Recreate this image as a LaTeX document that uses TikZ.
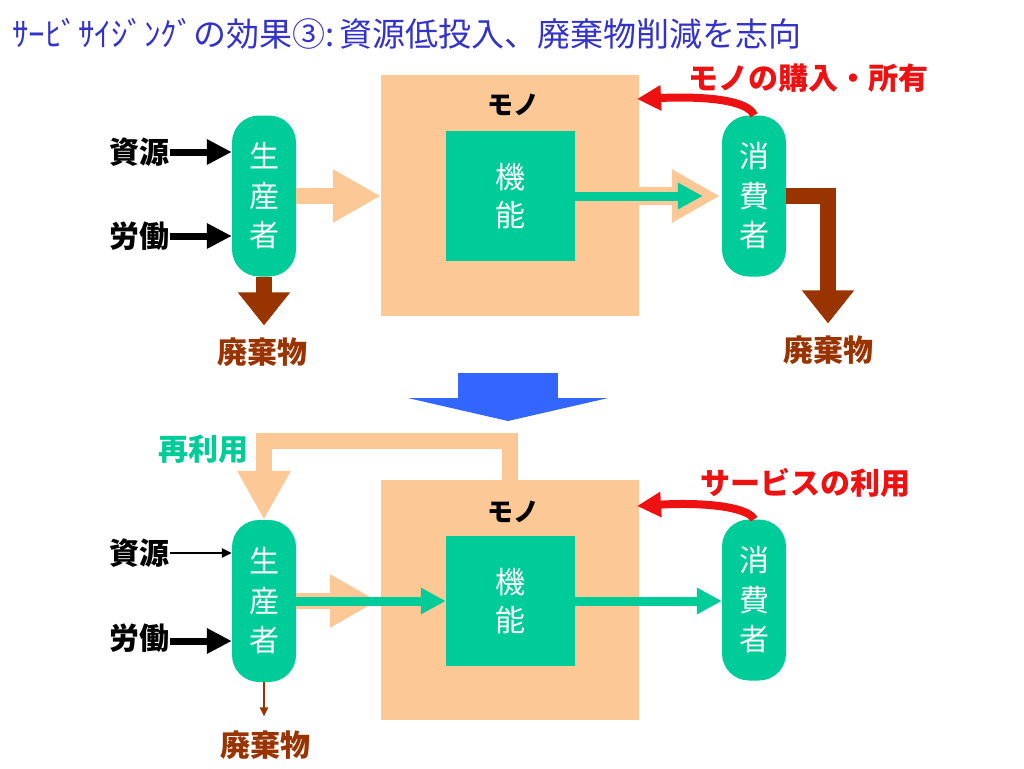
\documentclass[tikz,border=0pt]{standalone}
\usepackage{fontspec}
\newfontfamily\jp{Noto Sans CJK JP}
\usetikzlibrary{arrows.meta}
\definecolor{peach}{HTML}{FCC996}
\definecolor{mgreen}{HTML}{00CC99}
\definecolor{brownc}{HTML}{993300}
\definecolor{titleblue}{HTML}{3333CC}
\definecolor{arrowblue}{HTML}{3366FF}
\definecolor{redc}{HTML}{EE1111}
\begin{document}
\begin{tikzpicture}[x=1pt,y=-1pt,
  peachbox/.style={fill=peach, draw=none, minimum width=258pt, minimum height=241pt, inner sep=0pt},
  funcbox/.style={fill=mgreen, draw=none, minimum width=129pt, minimum height=130pt, inner sep=0pt,
    text=white, align=center, font=\jp\fontsize{30}{38}\selectfont},
  actor/.style={fill=mgreen, draw=none, rounded corners=27pt, minimum width=64pt, minimum height=161pt, inner sep=0pt,
    text=white, align=center, font=\jp\fontsize{30}{39.5}\selectfont},
  lbl/.style={inner sep=1pt, font=\jp\bfseries\fontsize{30}{36}\selectfont},
  monolbl/.style={inner sep=1pt, font=\jp\bfseries\fontsize{26}{30}\selectfont},
  blackfat/.style={draw=black, line width=7pt, -{Triangle[width=24pt,length=25pt]}},
  thinarrow/.style={line width=2.5pt, -{Triangle[width=9pt,length=10pt]}},
  peachfat/.style={draw=peach, line width=16pt, line join=miter, -{Triangle[width=50pt,length=48pt]}},
  greenarrow/.style={draw=mgreen, line width=9pt, -{Triangle[width=25pt,length=25pt]}},
  brownfat/.style={draw=brownc, line width=16pt, line join=miter, -{Triangle[width=50pt,length=33pt]}},
  redcurve/.style={draw=redc, line width=8pt, -{Triangle[width=24pt,length=24pt]}}
]
\useasboundingbox (0,0) rectangle (1024,768);
\fill[white] (0,0) rectangle (1024,768);

% title
\node[anchor=west, inner sep=0pt, text=titleblue, font=\jp\fontsize{33}{38}\selectfont] (title) at (12,34)
  {ｻｰﾋﾞｻｲｼﾞﾝｸﾞの効果③:\hspace{5pt}資源低投入、廃棄物削減を志向};

% ===== top =====
\node[peachbox] (boxA) at (510,195.5) {};
\node[monolbl] (monoA) at (513,105) {モノ};
\node[funcbox] (funcA) at (510.5,196) {機\\能};
\node[actor] (prodA) at (264,196) {生\\産\\者};
\node[actor] (consA) at (754,196) {消\\費\\者};
\node[lbl] (resA) at (139,152) {資源};
\node[lbl] (labA) at (139,236) {労働};
\node[lbl, text=brownc] (wasteA) at (262,352) {廃棄物};
\node[lbl, text=brownc] (wasteA2) at (828,350) {廃棄物};
\node[lbl, text=redc] (buyA) at (808,78) {モノの購入・所有};

\draw[blackfat] (resA.east) -- (resA.east -| prodA.west);
\draw[blackfat] (labA.east) -- (labA.east -| prodA.west);
\draw[peachfat] (prodA.east) -- (boxA.west |- prodA.east);
\draw[peachfat, line width=18pt] (boxA.east |- funcA.east) -- ([xshift=-2pt]consA.west);
\draw[greenarrow] (funcA.east) -- ([xshift=-19pt]consA.west);
\draw[brownfat] (prodA.south) -- (prodA.south |- wasteA.north) [shorten >=11pt];
\coordinate (bendA) at (828,196);
\draw[brownfat, shorten >=11pt] (consA.east) -- (bendA) -- (bendA |- wasteA2.north);
\coordinate (redA) at (637,99);
\draw[redcurve] (consA.north) .. controls (748,100) and (705,96) .. (redA);

% blue arrow
\coordinate (bs) at (508,373);
\coordinate (be) at (508,421);
\draw[draw=arrowblue, line width=100pt, -{Triangle[width=200pt,length=23pt]}] (bs) -- (be);

% ===== bottom =====
\node[peachbox, minimum height=240pt] (boxB) at (510,600) {};
\node[monolbl] (monoB) at (513,512) {モノ};
\node[funcbox] (funcB) at (510.5,601) {機\\能};
\node[actor, minimum height=162pt] (prodB) at (264,601) {生\\産\\者};
\node[actor] (consB) at (754,600) {消\\費\\者};
\node[lbl] (resB) at (139,553) {資源};
\node[lbl] (labB) at (139,638) {労働};
\node[lbl, text=brownc] (wasteB) at (265,745) {廃棄物};
\node[lbl, text=mgreen] (reuse) at (203,449) {再利用};
\node[lbl, text=redc] (useB) at (805,483) {サービスの利用};

\draw[thinarrow] (resB.east) -- (resB.east -| prodB.west);
\draw[blackfat] ([yshift=-3pt]labB.east) -- ([yshift=-3pt]labB.east -| prodB.west);
\draw[peachfat] (prodB.east) -- ([xshift=-3pt]boxB.west |- prodB.east);
\draw[greenarrow] (prodB.east) -- (funcB.west);
\draw[greenarrow] (funcB.east) -- (consB.west |- funcB.east);
\draw[draw=brownc, line width=2pt, -{Triangle[width=8pt,length=9pt]}, shorten >=13pt] (prodB.south) -- (prodB.south |- wasteB.north);
\coordinate (loopA) at (510,441);
\coordinate (loopB) at (264,441);
\draw[peachfat, -{Triangle[width=50pt,length=49pt]}] (boxB.north) -- (loopA) -- (loopB) -- (prodB.north);
\coordinate (redB) at (637,506);
\draw[redcurve] (consB.north) .. controls (748,507) and (705,502) .. (redB);
\end{tikzpicture}
\end{document}
